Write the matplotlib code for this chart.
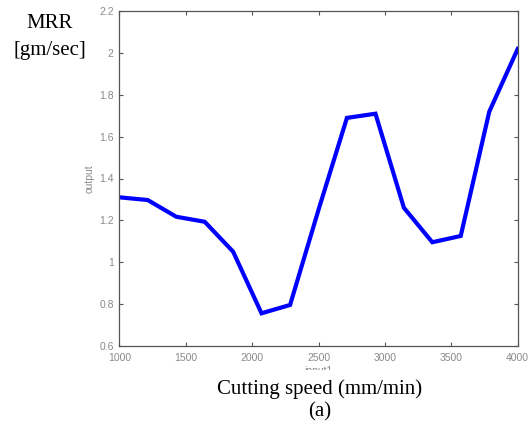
import matplotlib.pyplot as plt
from matplotlib.patches import Rectangle

# cutting speed (mm/min) and MRR (gm/sec)
speed = [1000, 1214, 1429, 1643, 1857, 2071, 2286, 2500, 2714, 2929,
         3143, 3357, 3571, 3786, 4000]
mrr = [1.31, 1.297, 1.217, 1.193, 1.05, 0.755, 0.795, 1.25, 1.69, 1.71,
       1.26, 1.095, 1.125, 1.72, 2.02]

xticks = [1000, 1500, 2000, 2500, 3000, 3500, 4000]
yticks = [0.6, 0.8, 1, 1.2, 1.4, 1.6, 1.8, 2, 2.2]

W, H = 532, 426
fig = plt.figure(figsize=(W / 100, H / 100), dpi=100)
ax = fig.add_axes([119.3 / W, 1 - 345.7 / H, 398.4 / W, 334.4 / H])

ax.plot(speed, mrr, color=(0, 0, 1), lw=3.0, solid_joinstyle='miter')

ax.set_xlim(1000, 4000)
ax.set_ylim(0.6, 2.2)
ax.set_xticks(xticks)
ax.set_yticks(yticks)
ax.set_yticklabels([f"{v:g}" for v in yticks])
ax.tick_params(direction='in', length=3, width=0.8, colors='#555555',
               labelcolor='#8a8a8a', labelsize=7.5, top=True, right=True)
ax.tick_params(axis='x', pad=5)
ax.tick_params(axis='y', pad=4)
for lab in ax.get_xticklabels() + ax.get_yticklabels():
    lab.set_fontfamily('Liberation Sans')
for s in ax.spines.values():
    s.set_color('#555555')
    s.set_linewidth(0.9)

ax.set_ylabel('output', fontsize=7.5, color='#8a8a8a', family='Liberation Sans', labelpad=3)
fig.text(318 / W, 1 - 371.5 / H, 'input1', fontsize=7.5, color='#8a8a8a',
         family='Liberation Sans', ha='center', va='center')

# white strip hiding most of the matlab x label
fig.patches.append(Rectangle((0, 0), 1, 1 - 369.5 / H, transform=fig.transFigure,
                             facecolor='white', edgecolor='none', zorder=5))

serif = 'Liberation Serif'
fig.text(50 / W, 1 - 24 / H, 'MRR', fontsize=15, family=serif, ha='center', va='center', zorder=6)
fig.text(50 / W, 1 - 50 / H, '[gm/sec]', fontsize=15, family=serif, ha='center', va='center', zorder=6)
fig.text(320 / W, 1 - 389 / H, 'Cutting speed (mm/min)', fontsize=15, family=serif,
         ha='center', va='center', zorder=6)
fig.text(320 / W, 1 - 411.5 / H, '(a)', fontsize=15, family=serif, ha='center', va='center', zorder=6)

fig.savefig('out.png', dpi=100)
